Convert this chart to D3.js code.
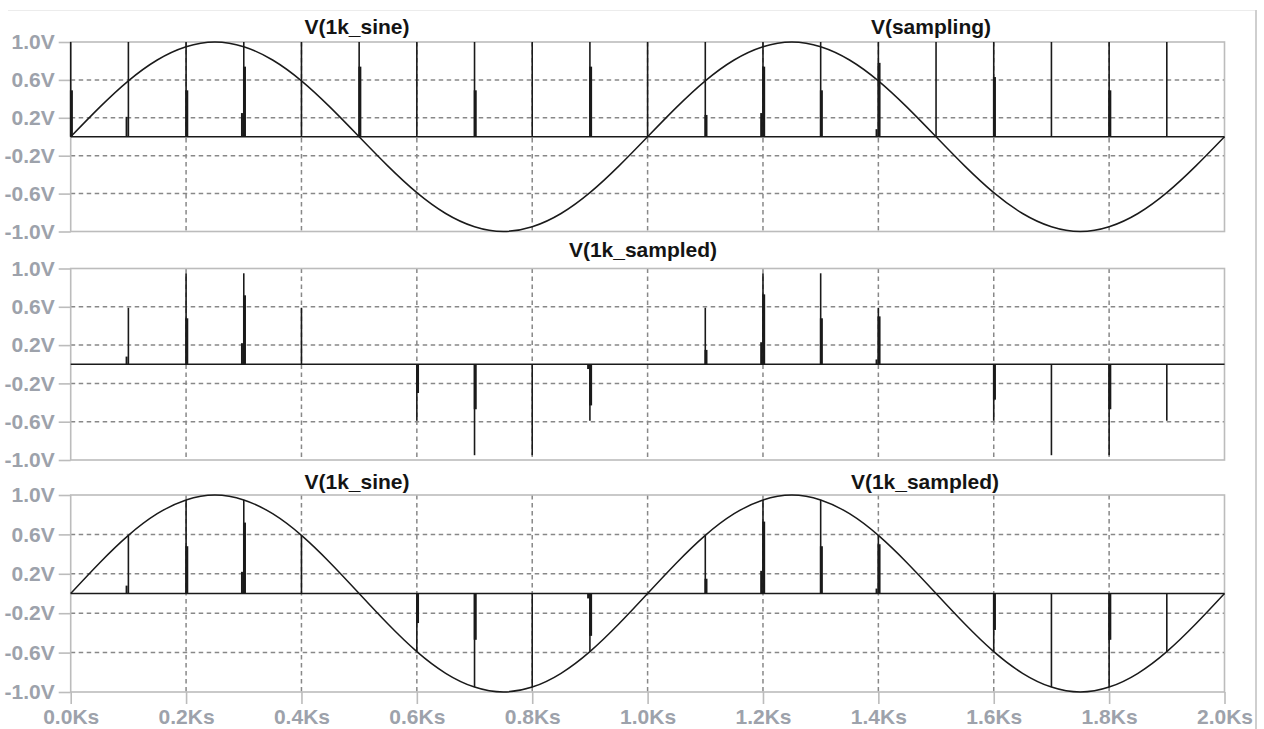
<!DOCTYPE html>
<html>
<head>
<meta charset="utf-8">
<script src="https://cdn.jsdelivr.net/npm/d3@7"></script>
<style>
  html, body { margin: 0; padding: 0; background: #fff; }
  svg { display: block; }
  text { font-family: "Liberation Sans", Arial, sans-serif; font-weight: bold; }
</style>
</head>
<body>
<svg id="chart" width="1264" height="729"></svg>
<script>
// ---- waveform data (time in Ks, voltage in V) ----
const sineTimes = [0.00,0.05,0.10,0.15,0.20,0.25,0.30,0.35,0.40,0.45,0.50,0.55,0.60,0.65,0.70,0.75,0.80,0.85,0.90,0.95,
                   1.00,1.05,1.10,1.15,1.20,1.25,1.30,1.35,1.40,1.45,1.50,1.55,1.60,1.65,1.70,1.75,1.80,1.85,1.90,1.95,2.00];
const sineValues = [0,0.31,0.59,0.81,0.95,1.00,0.95,0.81,0.59,0.31,0,-0.31,-0.59,-0.81,-0.95,-1.00,-0.95,-0.81,-0.59,-0.31,
                    0,0.31,0.59,0.81,0.95,1.00,0.95,0.81,0.59,0.31,0,-0.31,-0.59,-0.81,-0.95,-1.00,-0.95,-0.81,-0.59,-0.31,0];

const pulseTimes = [0.0,0.1,0.2,0.3,0.4,0.5,0.6,0.7,0.8,0.9,1.0,1.1,1.2,1.3,1.4,1.5,1.6,1.7,1.8,1.9];

// V(sampling): full pulse height, intermediate step level and small pre-pulse bump
const samplingPeak = [1,1,1,1,1,1,1,1,1,1,1,1,1,1,1,1,1,1,1,1];
const samplingStep = [0.49,0,0.49,0.74,0,0.74,0,0.49,0,0.74,0,0.23,0.74,0.49,0.78,0,0.63,0,0.49,0];
const samplingBump = [0,0.21,0,0.25,0,0,0,0,0,0,0,0,0.25,0,0.08,0,0,0,0,0];

// V(1k_sampled)
const sampledPeak = [0,0.59,0.95,0.95,0.59,0,-0.59,-0.95,-0.95,-0.59,0,0.59,0.95,0.95,0.59,0,-0.59,-0.95,-0.95,-0.59];
const sampledStep = [0,0,0.48,0.72,0,0,-0.30,-0.47,0,-0.43,0,0.15,0.73,0.48,0.50,0,-0.37,0,-0.47,0];
const sampledBump = [0,0.08,0,0.22,0,0,0,0,0,-0.05,0,0,0.23,0,0.05,0,0,0,0,0];

// axis ticks
const yTickValues = [1.0,0.6,0.2,-0.2,-0.6,-1.0];
const yTickLabels = ["1.0V","0.6V","0.2V","-0.2V","-0.6V","-1.0V"];
const yGridValues = [0.6,0.2,-0.2,-0.6];
const xTickValues = [0.0,0.2,0.4,0.6,0.8,1.0,1.2,1.4,1.6,1.8,2.0];
const xTickLabels = ["0.0Ks","0.2Ks","0.4Ks","0.6Ks","0.8Ks","1.0Ks","1.2Ks","1.4Ks","1.6Ks","1.8Ks","2.0Ks"];
const xGridValues = [0.2,0.4,0.6,0.8,1.0,1.2,1.4,1.6,1.8];

// ---- layout ----
const svg = d3.select("#chart");
const X0 = 70.7, X1 = 1224.5;
const x = d3.scaleLinear().domain([0, 2]).range([X0, X1]);

const FRAME = "#bcbcbc", GRID = "#888888", TRACE = "#1a1a1a", TICKTXT = "#9da2ab";
const FONT = '"Liberation Sans", Arial, sans-serif';

const sampling = { peak: samplingPeak, step: samplingStep, bump: samplingBump };
const sampled  = { peak: sampledPeak,  step: sampledStep,  bump: sampledBump };

const panes = [
  { top: 42,    bottom: 231.5, titles: [["V(1k_sine)", 357, 34], ["V(sampling)", 931, 34]],   sine: true,  pulses: sampling },
  { top: 268.5, bottom: 460,   titles: [["V(1k_sampled)", 643, 257]],                        sine: false, pulses: sampled },
  { top: 495,   bottom: 692,   titles: [["V(1k_sine)", 357, 489], ["V(1k_sampled)", 925, 489]], sine: true,  pulses: sampled, xAxis: true }
];

// window border lines
svg.append("line").attr("x1", 8).attr("x2", 1256).attr("y1", 10.5).attr("y2", 10.5)
  .attr("stroke", "#ececec").attr("stroke-width", 1);
svg.append("line").attr("x1", 1256).attr("x2", 1256).attr("y1", 10).attr("y2", 729)
  .attr("stroke", "#cfcfcf").attr("stroke-width", 2);

panes.forEach(p => {
  const y = d3.scaleLinear().domain([-1, 1]).range([p.bottom, p.top]);
  const g = svg.append("g");

  // grid
  g.selectAll(".hg").data(yGridValues).join("line")
    .attr("x1", X0).attr("x2", X1).attr("y1", d => y(d)).attr("y2", d => y(d))
    .attr("stroke", GRID).attr("stroke-width", 1.5).attr("stroke-dasharray", "4.5,3.5");
  g.selectAll(".vg").data(xGridValues).join("line")
    .attr("x1", d => x(d)).attr("x2", d => x(d)).attr("y1", p.top).attr("y2", p.bottom)
    .attr("stroke", GRID).attr("stroke-width", 1.5).attr("stroke-dasharray", "4.5,3.5");

  // frame
  g.append("rect").attr("x", X0).attr("y", p.top).attr("width", X1 - X0).attr("height", p.bottom - p.top)
    .attr("fill", "none").attr("stroke", FRAME).attr("stroke-width", 1.6);

  // left axis
  const ya = g.append("g").attr("transform", `translate(${X0},0)`)
    .call(d3.axisLeft(y).tickValues(yTickValues).tickSize(12).tickPadding(4)
      .tickFormat((d, i) => yTickLabels[i]));
  ya.select(".domain").remove();
  ya.selectAll(".tick line").attr("stroke", FRAME).attr("stroke-width", 1.6);
  ya.selectAll(".tick text").attr("fill", TICKTXT).style("font-size", "21px")
    .style("font-family", FONT).style("font-weight", "bold");

  // bottom axis
  if (p.xAxis) {
    const xa = g.append("g").attr("transform", `translate(0,${p.bottom})`)
      .call(d3.axisBottom(x).tickValues(xTickValues).tickSize(12).tickPadding(5)
        .tickFormat((d, i) => xTickLabels[i]));
    xa.select(".domain").remove();
    xa.selectAll(".tick line").attr("stroke", FRAME).attr("stroke-width", 1.6);
    xa.selectAll(".tick text").attr("fill", TICKTXT).style("font-size", "21px")
      .style("font-family", FONT).style("font-weight", "bold");
  }

  // pulse train: baseline plus one spike per sample
  const pl = p.pulses;
  g.append("line").attr("x1", x(0)).attr("x2", x(2)).attr("y1", y(0)).attr("y2", y(0))
    .attr("stroke", TRACE).attr("stroke-width", 1.6);
  g.selectAll(".spike").data(pulseTimes).join("line")
    .attr("x1", d => x(d)).attr("x2", d => x(d))
    .attr("y1", y(0)).attr("y2", (d, i) => y(pl.peak[i]))
    .attr("stroke", TRACE).attr("stroke-width", 1.6);
  g.selectAll(".step").data(pulseTimes).join("rect")
    .attr("x", d => x(d) - 0.8).attr("width", 3)
    .attr("y", (d, i) => Math.min(y(0), y(pl.step[i])))
    .attr("height", (d, i) => Math.abs(y(pl.step[i]) - y(0)))
    .attr("fill", TRACE);
  g.selectAll(".bump").data(pulseTimes).join("rect")
    .attr("x", d => x(d) - 2.8).attr("width", 2)
    .attr("y", (d, i) => Math.min(y(0), y(pl.bump[i])))
    .attr("height", (d, i) => Math.abs(y(pl.bump[i]) - y(0)))
    .attr("fill", TRACE);

  // sine trace
  if (p.sine) {
    const line = d3.line().x((d, i) => x(sineTimes[i])).y(d => y(d)).curve(d3.curveNatural);
    g.append("path").datum(sineValues).attr("d", line)
      .attr("fill", "none").attr("stroke", TRACE).attr("stroke-width", 1.5);
  }

  // titles
  p.titles.forEach(([txt, tx, ty]) => {
    svg.append("text").attr("x", tx).attr("y", ty).attr("text-anchor", "middle")
      .attr("fill", "#141414").style("font-size", "21px").text(txt);
  });
});
</script>
</body>
</html>
